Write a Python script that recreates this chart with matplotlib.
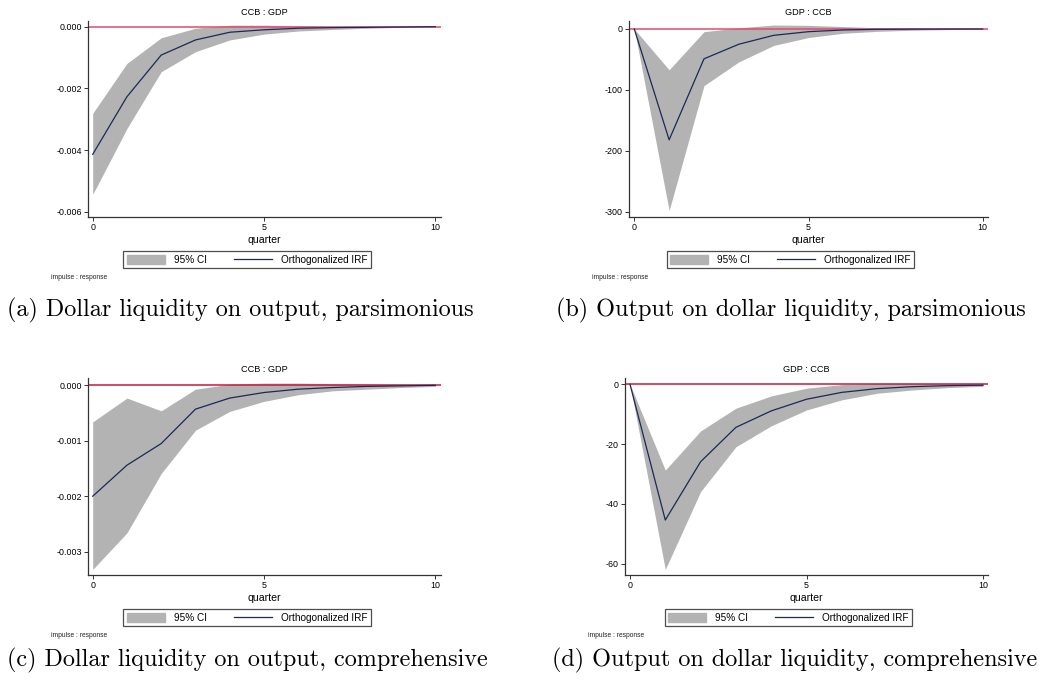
import matplotlib
matplotlib.use("Agg")
import matplotlib.pyplot as plt
from matplotlib.patches import Patch
from matplotlib.lines import Line2D

# horizon (quarters)
quarter = list(range(11))

# (a) CCB -> GDP, parsimonious
irf_a = [-0.00414, -0.00227, -0.00092, -0.00043, -0.00018, -0.00010, -0.00005, -0.00003, -0.00002, -0.00001, 0.0]
up_a = [-0.00281, -0.00119, -0.00036, -0.00005, 0.00005, 0.00005, 0.00003, 0.00001, 0.0, 0.0, 0.0]
lo_a = [-0.00544, -0.00330, -0.00146, -0.00081, -0.00043, -0.00024, -0.00014, -0.00009, -0.00005, -0.00002, 0.0]

# (b) GDP -> CCB, parsimonious
irf_b = [0, -182, -49, -25, -10.4, -4.4, -1.6, -0.5, -0.2, -0.1, 0]
up_b = [0, -67, -4.4, 2, 6.5, 6, 4, 2, 1, 0.5, 0]
lo_b = [0, -298, -93, -54, -27, -14, -7, -3.8, -2, -1, 0]

# (c) CCB -> GDP, comprehensive
irf_c = [-0.00200, -0.00144, -0.00105, -0.00043, -0.00023, -0.00013, -0.00007, -0.00004, -0.00002, -0.00001, 0.0]
up_c = [-0.00066, -0.00023, -0.00046, -0.00007, 0.00002, 0.00004, 0.00004, 0.00003, 0.00002, 0.00001, 0.0]
lo_c = [-0.00332, -0.00266, -0.00159, -0.00081, -0.00047, -0.00029, -0.00017, -0.00010, -0.00007, -0.00004, -0.00002]

# (d) GDP -> CCB, comprehensive
irf_d = [0, -45.4, -25.9, -14.4, -8.9, -5.0, -2.7, -1.45, -0.8, -0.45, -0.3]
up_d = [0, -28.7, -15.6, -8.0, -3.9, -1.3, -0.1, 0.3, 0.3, 0.2, 0.1]
lo_d = [0, -61.9, -35.9, -20.9, -13.9, -8.6, -5.2, -3.0, -1.9, -1.1, -0.7]

titles = ["CCB : GDP", "GDP : CCB", "CCB : GDP", "GDP : CCB"]
captions = ["(a) Dollar liquidity on output, parsimonious",
            "(b) Output on dollar liquidity, parsimonious",
            "(c) Dollar liquidity on output, comprehensive",
            "(d) Output on dollar liquidity, comprehensive"]
yticks = [[0.0, -0.002, -0.004, -0.006],
          [0, -100, -200, -300],
          [0.0, -0.001, -0.002, -0.003],
          [0, -20, -40, -60]]
ytlabels = [["0.000", "-0.002", "-0.004", "-0.006"],
            ["0", "-100", "-200", "-300"],
            ["0.000", "-0.001", "-0.002", "-0.003"],
            ["0", "-20", "-40", "-60"]]

W, H = 1045, 684
fig = plt.figure(figsize=(W / 100, H / 100), dpi=100)
plt.rcParams['font.family'] = ['Liberation Sans', 'DejaVu Sans']

BAND = "#b3b3b3"
LINE = "#1a2a55"


def px_axes(x0, y0, x1, y1):
    # pixel box (top-left origin) -> figure axes
    return fig.add_axes([x0 / W, 1 - y1 / H, (x1 - x0) / W, (y1 - y0) / H])


def panel(box, xz, x10, y0px, yref_px, yref_val, irf, up, lo, title, ticks, tlabels, zero_col, caption, cap_x, cap_y):
    x0, ytop, x1, ybot = box
    ax = px_axes(x0, ytop, x1, ybot)
    # axis limits from pixel calibration
    xs = (x10 - xz) / 10.0
    ax.set_xlim((x0 - xz) / xs, (x1 - xz) / xs)
    ys = (yref_px - y0px) / yref_val
    ax.set_ylim((ybot - y0px) / ys, (ytop - y0px) / ys)
    ax.fill_between(quarter, lo, up, color=BAND, linewidth=0, zorder=1)
    ax.plot(quarter, irf, color=LINE, lw=0.9, zorder=3)
    ax.axhline(0, color=zero_col, lw=1.1, zorder=2)
    for s in ["top", "right"]:
        ax.spines[s].set_visible(False)
    for s in ["left", "bottom"]:
        ax.spines[s].set_color("#333333")
        ax.spines[s].set_linewidth(0.9)
    ax.set_xticks([0, 5, 10])
    ax.set_yticks(ticks)
    ax.set_yticklabels(tlabels)
    ax.tick_params(labelsize=6.4, length=3, width=0.7, color="#333333", pad=1.5)
    ax.set_title(title, fontsize=6.6, pad=4)
    ax.set_xlabel("quarter", fontsize=7.6, labelpad=2)
    handles = [Patch(facecolor=BAND, edgecolor=BAND), Line2D([], [], color=LINE, lw=0.9)]
    leg = ax.legend(handles, ["95% CI", "Orthogonalized IRF"], loc="upper center",
                    bbox_to_anchor=(0.45, -0.148), ncol=2, fontsize=7.2, frameon=True,
                    fancybox=False, edgecolor="#222222", handlelength=3.8, handleheight=1.1,
                    columnspacing=2.7, borderpad=0.35, handletextpad=0.9)
    leg.get_frame().set_linewidth(0.9)
    fig.text(x0 / W - 37 / W, 1 - (ybot + 62) / H, "impulse : response", fontsize=4.8, color="#222222")
    fig.text(cap_x / W, 1 - cap_y / H, caption, fontsize=17.4, family="cmr10", va="center")
    return ax


panel((88, 21, 441, 217), 92.7, 435.3, 26.7, 211.7, -0.006, irf_a, up_a, lo_a,
      titles[0], yticks[0], ytlabels[0], "#de4d72", captions[0], 7, 310)
panel((629, 21, 988, 217), 634.3, 982.7, 29, 211.7, -300, irf_b, up_b, lo_b,
      titles[1], yticks[1], ytlabels[1], "#de4d72", captions[1], 556, 310)
panel((88, 378, 441, 575), 92.7, 435.3, 385.3, 551.7, -0.003, irf_c, up_c, lo_c,
      titles[2], yticks[2], ytlabels[2], "#c8183c", captions[2], 7, 660)
panel((625, 378, 988, 575), 630, 983, 384.3, 563.7, -60, irf_d, up_d, lo_d,
      titles[3], yticks[3], ytlabels[3], "#c8183c", captions[3], 552, 660)

fig.savefig("out.png", dpi=100)
